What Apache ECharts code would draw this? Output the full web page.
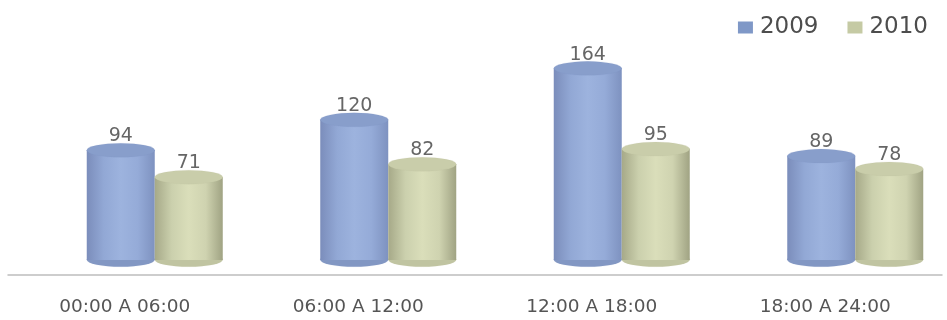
<!DOCTYPE html>
<html lang="en" style="height: 100%">

<head>
  <meta charset="utf-8">
  <style>
    body {
      height: 100%;
      margin: 0;
      background: #fff;
    }

    #chart {
      width: 947px;
      height: 320px;
    }
  </style>
</head>

<body>
  <div id="chart"></div>
  <script type="text/javascript" src="https://cdn.jsdelivr.net/npm/echarts@6/dist/echarts.min.js"></script>
  <script type="text/javascript">
    const categories = ['00:00 A 06:00', '06:00 A 12:00', '12:00 A 18:00', '18:00 A 24:00'];
    const values2009 = [94, 120, 164, 89];
    const values2010 = [71, 82, 95, 78];

    const fontFamily = 'DejaVu Sans';
    const barW = 68;

    function sideGradient(stops) {
      return new echarts.graphic.LinearGradient(0, 0, 1, 0, stops.map(function (c, i) {
        return { offset: i / (stops.length - 1), color: c };
      }));
    }

    const blueSide = sideGradient(['#7b8dbb', '#92a8d5', '#9db3de', '#95abd8', '#7e92c0']);
    const greenSide = sideGradient(['#a6a988', '#cbd0ad', '#dadeba', '#cfd3b0', '#a0a383']);

    var chart = echarts.init(document.getElementById('chart'), null, { renderer: 'canvas' });

    // ellipse caps for the cylinders
    function cap(name, data, pos, offsetX, offsetY, color, border, z) {
      return {
        name: name,
        type: 'pictorialBar',
        xAxisIndex: 1,
        yAxisIndex: 1,
        symbol: 'circle',
        symbolSize: [barW, 14],
        symbolPosition: pos,
        symbolOffset: [offsetX, offsetY],
        barWidth: barW,
        barGap: '-100%',
        itemStyle: { color: color, borderColor: border, borderWidth: 1 },
        z: z,
        silent: true,
        data: data
      };
    }

    var valueLabel = {
      show: true,
      position: 'top',
      distance: 4,
      fontFamily: fontFamily,
      fontSize: 19,
      color: '#666'
    };

    var option = {
      animation: false,
      legend: {
        right: 14,
        top: 11,
        itemWidth: 15,
        itemHeight: 12,
        itemGap: 29,
        icon: 'rect',
        data: [
          { name: '2009', itemStyle: { color: '#7f98c7' } },
          { name: '2010', itemStyle: { color: '#c5caa4' } }
        ],
        textStyle: { fontFamily: fontFamily, fontSize: 23, color: '#4d4d4d', padding: [0, 0, 0, 2] }
      },
      grid: [
        { left: 8, right: 5, top: 26, bottom: 45, outerBoundsMode: 'none' },
        // bars sit ~30px to the right of the label slots (perspective shift)
        { left: 38, width: 934, top: 26, bottom: 60, outerBoundsMode: 'none' }
      ],
      xAxis: [
        {
          type: 'category',
          gridIndex: 0,
          data: categories,
          axisLine: { lineStyle: { color: '#bdbdbd', width: 1.5 } },
          axisTick: { length: 4, lineStyle: { color: '#bdbdbd' } },
          axisLabel: { margin: 23, fontFamily: fontFamily, fontSize: 18.5, color: '#555' }
        },
        {
          type: 'category',
          gridIndex: 1,
          data: categories,
          show: false
        }
      ],
      yAxis: [
        { type: 'value', gridIndex: 0, show: false },
        { type: 'value', gridIndex: 1, min: 0, max: 200, show: false }
      ],
      series: [
        {
          name: '2009',
          type: 'bar',
          xAxisIndex: 1,
          yAxisIndex: 1,
          barWidth: barW,
          barGap: '0%',
          itemStyle: { color: blueSide },
          label: valueLabel,
          z: 3,
          data: values2009
        },
        {
          name: '2010',
          type: 'bar',
          xAxisIndex: 1,
          yAxisIndex: 1,
          barWidth: barW,
          barGap: '0%',
          itemStyle: { color: greenSide },
          label: valueLabel,
          z: 3,
          data: values2010
        },
        cap('2009', values2009, 'end', -barW / 2, -7, '#889ecb', '#7489b7', 4),
        cap('2010', values2010, 'end', barW / 2, -7, '#c9cdaa', '#a9ad8b', 4),
        cap('2009', values2009, 'start', -barW / 2, 7, '#8297c3', '#8297c3', 2),
        cap('2010', values2010, 'start', barW / 2, 7, '#c0c4a1', '#c0c4a1', 2)
      ]
    };

    chart.setOption(option);
  </script>
</body>

</html>
